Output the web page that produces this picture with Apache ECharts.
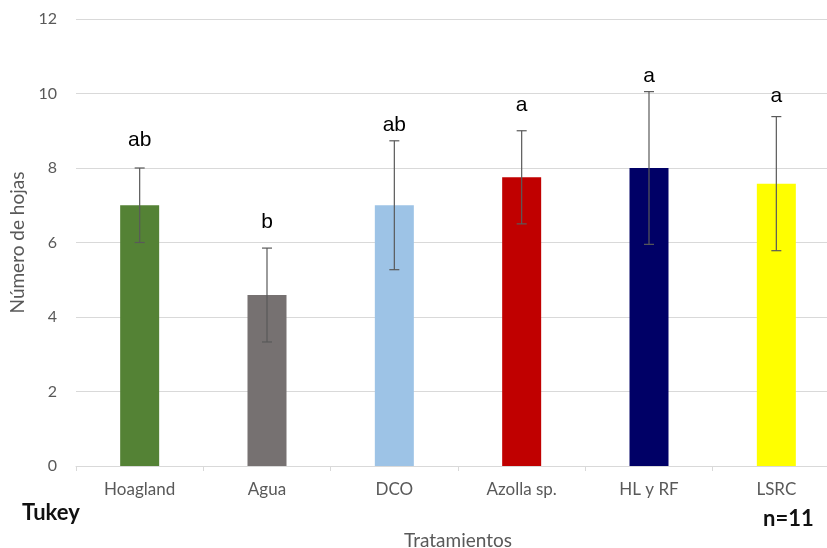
<!DOCTYPE html>
<html>
<head>
<meta charset="utf-8">
<script src="https://cdn.jsdelivr.net/npm/echarts@6/dist/echarts.min.js"></script>
<style>
  html, body { margin: 0; padding: 0; background: #fff; }
  #chart { width: 827px; height: 548px; }
</style>
</head>
<body>
<div id="chart"></div>
<script>
// Leaf counts per treatment (mean ± standard deviation) with Tukey groups
const categories = ['Hoagland', 'Agua', 'DCO', 'Azolla sp.', 'HL y RF', 'LSRC'];
const means = [7.0, 4.59, 7.0, 7.75, 8.0, 7.58];
const stdDevs = [1.0, 1.26, 1.73, 1.25, 2.05, 1.8];
const tukeyGroups = ['ab', 'b', 'ab', 'a', 'a', 'a'];
const yTicks = [0, 2, 4, 6, 8, 10, 12];

// Styling: bar fills and the pixel gap between each group letter and its error cap
const barColors = ['#548235', '#767171', '#9dc3e6', '#c00000', '#000066', '#ffff00'];
const letterGaps = [21, 19, 9, 19, 9, 14];

const axisFont = 'Lato, "Open Sans", sans-serif';
const errorData = categories.map((c, i) => [i, means[i] - stdDevs[i], means[i] + stdDevs[i], tukeyGroups[i]]);

const chart = echarts.init(document.getElementById('chart'));
chart.setOption({
  animation: false,
  backgroundColor: '#ffffff',
  grid: { left: 76, right: -13, top: 19, bottom: 82, containLabel: false, outerBoundsMode: 'none' },
  xAxis: {
    type: 'category',
    data: categories,
    name: 'Tratamientos',
    nameLocation: 'middle',
    nameGap: 65,
    nameTextStyle: { color: '#595959', fontSize: 19, fontFamily: axisFont },
    axisLine: { lineStyle: { color: '#d9d9d9', width: 1 } },
    axisTick: { show: true, alignWithLabel: false, length: 5, lineStyle: { color: '#d9d9d9' } },
    axisLabel: { color: '#595959', fontSize: 17, fontFamily: axisFont, margin: 15 }
  },
  yAxis: {
    type: 'value',
    min: yTicks[0],
    max: yTicks[yTicks.length - 1],
    interval: 2,
    name: 'Número de hojas',
    nameLocation: 'middle',
    nameGap: 43,
    nameTextStyle: { color: '#595959', fontSize: 19, fontFamily: axisFont },
    axisLine: { show: false },
    axisTick: { show: false },
    axisLabel: { color: '#595959', fontSize: 16, fontFamily: axisFont, margin: 19 },
    splitLine: { lineStyle: { color: '#d9d9d9', width: 1 } }
  },
  series: [
    {
      type: 'bar',
      barWidth: 39,
      data: means.map((v, i) => ({ value: v, itemStyle: { color: barColors[i] } }))
    },
    {
      type: 'custom',
      data: errorData,
      z: 10,
      renderItem: function (params, api) {
        const x = api.value(0);
        const low = api.coord([x, api.value(1)]);
        const high = api.coord([x, api.value(2)]);
        const cap = 5;
        const style = { stroke: '#595959', lineWidth: 1.2 };
        return {
          type: 'group',
          children: [
            { type: 'line', shape: { x1: high[0], y1: high[1], x2: low[0], y2: low[1] }, style: style },
            { type: 'line', shape: { x1: high[0] - cap, y1: high[1], x2: high[0] + cap, y2: high[1] }, style: style },
            { type: 'line', shape: { x1: low[0] - cap, y1: low[1], x2: low[0] + cap, y2: low[1] }, style: style },
            {
              type: 'text',
              style: {
                text: api.value(3),
                x: high[0],
                y: high[1] - letterGaps[params.dataIndex] + 4,
                align: 'center',
                verticalAlign: 'bottom',
                fill: '#000000',
                font: '21px "Liberation Sans", Arial, sans-serif'
              }
            }
          ]
        };
      }
    }
  ],
  graphic: [
    {
      type: 'text',
      left: 22,
      top: 502,
      style: { text: 'Tukey', fill: '#111', font: 'bold 22px Lato, "Open Sans", sans-serif' }
    },
    {
      type: 'text',
      left: 763,
      top: 508,
      style: { text: 'n=11', fill: '#111', font: 'bold 22px Lato, "Open Sans", sans-serif' }
    }
  ]
});
</script>
</body>
</html>
